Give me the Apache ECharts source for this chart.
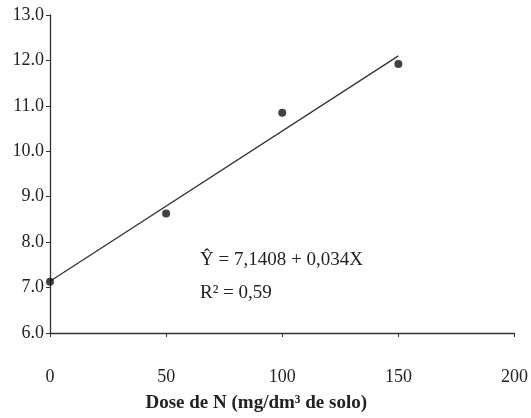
<!DOCTYPE html>
<html>
<head>
<meta charset="utf-8">
<script src="https://cdn.jsdelivr.net/npm/echarts@6/dist/echarts.min.js"></script>
<style>
  html, body { margin: 0; padding: 0; background: #fff; }
  #chart { width: 531px; height: 418px; }
</style>
</head>
<body>
<div id="chart"></div>
<script>
  // dados
  var doses = [0, 50, 100, 150];
  var values = [7.13, 8.63, 10.85, 11.92];
  var trendX = [0, 150];
  var trendY = [7.14, 12.1];
  var yTicks = [6, 7, 8, 9, 10, 11, 12, 13];
  var xTicks = [0, 50, 100, 150, 200];

  var font = '"Liberation Serif", "DejaVu Serif", serif';
  var ink = '#222';

  var chart = echarts.init(document.getElementById('chart'));
  chart.setOption({
    animation: false,
    grid: { left: 50, right: 16, top: 15, bottom: 80 },
    xAxis: {
      type: 'value',
      min: xTicks[0],
      max: xTicks[xTicks.length - 1],
      interval: 50,
      name: 'Dose de N (mg/dm³ de solo)',
      nameLocation: 'middle',
      nameGap: 61,
      nameTextStyle: {
        fontFamily: font,
        fontSize: 19,
        fontWeight: 'bold',
        color: ink,
        padding: [0, 52, 0, 0] // o título fica um pouco à esquerda do centro
      },
      axisLine: { lineStyle: { color: '#333', width: 1.3 } },
      axisTick: { length: 4, lineStyle: { color: '#333' } },
      axisLabel: { margin: 35, fontFamily: font, fontSize: 18, color: ink },
      splitLine: { show: false }
    },
    yAxis: {
      type: 'value',
      min: yTicks[0],
      max: yTicks[yTicks.length - 1],
      interval: 1,
      axisLine: { show: true, lineStyle: { color: '#333', width: 1.3 } },
      axisTick: { show: true, length: 4, lineStyle: { color: '#333' } },
      axisLabel: {
        margin: 6,
        fontFamily: font,
        fontSize: 18,
        color: ink,
        formatter: function (v) { return v.toFixed(1); }
      },
      splitLine: { show: false }
    },
    graphic: [
      {
        type: 'text',
        left: 200,
        top: 251,
        style: { text: 'Ŷ = 7,1408 + 0,034X', font: '19px ' + font, fill: ink }
      },
      {
        type: 'text',
        left: 200,
        top: 284,
        style: { text: 'R² = 0,59', font: '19px ' + font, fill: ink }
      }
    ],
    series: [
      {
        type: 'line',
        data: trendX.map(function (x, i) { return [x, trendY[i]]; }),
        showSymbol: false,
        lineStyle: { color: '#333', width: 1.3 },
        z: 1
      },
      {
        type: 'scatter',
        data: doses.map(function (x, i) { return [x, values[i]]; }),
        symbolSize: 8,
        itemStyle: { color: '#111' },
        z: 2
      }
    ]
  });
</script>
</body>
</html>
